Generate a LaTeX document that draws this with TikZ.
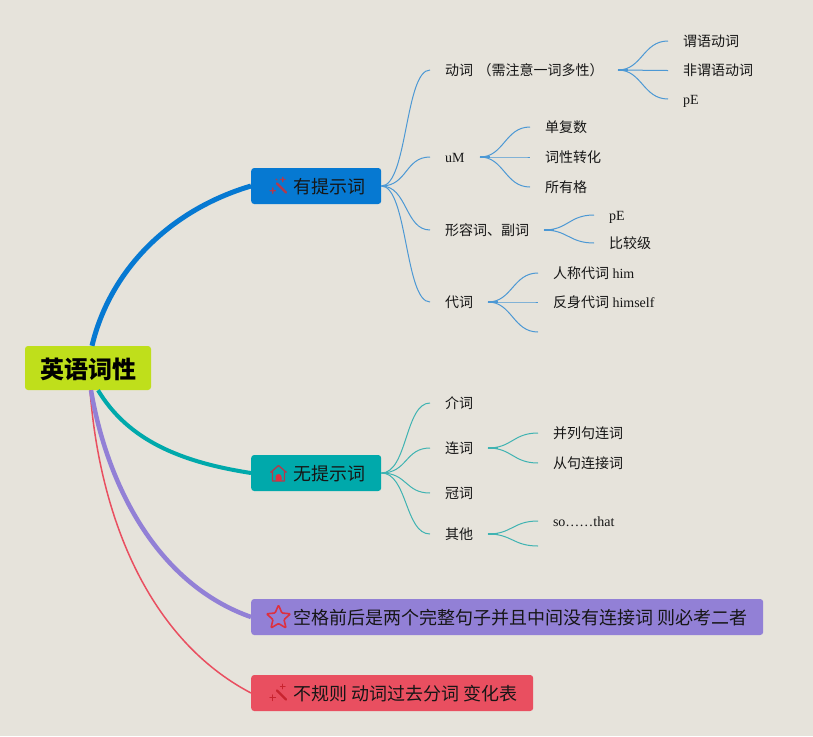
\documentclass[tikz,border=0pt]{standalone}
\usepackage{fontspec}
\setmainfont{Liberation Serif}
\newfontfamily\cjk{Noto Sans CJK SC}
\definecolor{paper}{HTML}{E6E3DB}
\definecolor{lime}{HTML}{BFDF1B}
\definecolor{bblue}{HTML}{0679D2}
\definecolor{bteal}{HTML}{00A9AB}
\definecolor{bpurple}{HTML}{9280D6}
\definecolor{bred}{HTML}{E94F60}
\definecolor{lblue}{HTML}{4C98D4}
\definecolor{lteal}{HTML}{3FB3B2}
\definecolor{ink}{HTML}{161616}
\definecolor{iconred}{HTML}{B23A4C}
\definecolor{iconbright}{HTML}{DD3040}
\definecolor{icondark}{HTML}{C8242F}
\tikzset{
  x=1pt,y=-1pt,
  rootbox/.style={fill=lime,rounded corners=3pt,minimum width=126pt,minimum height=44pt,inner sep=0pt},
  roottext/.style={inner sep=0pt,font=\fontsize{24}{26}\selectfont\cjk\bfseries,text=black},
  branchbox/.style={rounded corners=3pt,minimum height=36pt,inner sep=0pt,anchor=west},
  branchtext/.style={anchor=west,inner sep=0pt,minimum height=20pt,font=\fontsize{18}{20}\selectfont\cjk,text=ink},
  leaf/.style={anchor=west,inner sep=0pt,outer sep=0pt,text height=12pt,text depth=2pt,font=\fontsize{14}{16}\selectfont,text=ink,align=left},
  bluelink/.style={draw=lblue,line width=1pt},
  teallink/.style={draw=lteal,line width=1pt},
  wand/.style={line cap=round,line width=2.2pt},
  spark/.style={line cap=round,line width=1.1pt},
}
\newcommand{\cn}[1]{{\cjk #1}}
\begin{document}
\begin{tikzpicture}
\useasboundingbox (0,0) rectangle (813,736);
\fill[paper] (0,0) rectangle (813,736);

% main nodes
\node[rootbox] (root) at (88,368) {};
\node[roottext] (roott) at (88,369) {英语词性};
\node[branchbox,fill=bblue,minimum width=130pt] (b1) at (251,186) {};
\node[branchbox,fill=bteal,minimum width=130pt] (b2) at (251,473) {};
\node[branchbox,fill=bpurple,minimum width=512pt] (b3) at (251,617) {};
\node[branchbox,fill=bred,minimum width=282pt] (b4) at (251,693) {};
\node[branchtext] (t1) at (293,187) {有提示词};
\node[branchtext] (t2) at (293,474) {无提示词};
\node[branchtext] (t3) at (293,618) {空格前后是两个完整句子并且中间没有连接词 则必考二者};
\node[branchtext] (t4) at (293,694) {不规则 动词过去分词 变化表};

% main connectors
\draw[bred,line width=1.5pt] ([xshift=2pt]root.south) .. controls (100,520) and (150,640) .. (b4.west);
\draw[bpurple,line width=4.5pt] ([xshift=3pt]root.south) .. controls (108,490) and (160,585) .. (b3.west);
\draw[bteal,line width=4pt] ([xshift=10pt]root.south) .. controls (128,440) and (180,462) .. (b2.west);
\draw[bblue,line width=5pt] ([xshift=4pt]root.north) .. controls (110,270) and (170,210) .. (b1.west);

% level 2, blue
\node[leaf,text width=173pt] (v) at (445,70) {\cn{动词 （需注意一词多性）}};
\node[leaf,text width=35pt] (um) at (445,157) {uM};
\node[leaf,text width=99pt] (adj) at (445,230) {\cn{形容词、副词}};
\node[leaf,text width=43pt] (pron) at (445,302) {\cn{代词}};
% level 3, blue
\node[leaf] (v1) at (683,41) {\cn{谓语动词}};
\node[leaf] (v2) at (683,70.5) {\cn{非谓语动词}};
\node[leaf] (v3) at (683,99) {pE};
\node[leaf] (u1) at (545,127) {\cn{单复数}};
\node[leaf] (u2) at (545,157) {\cn{词性转化}};
\node[leaf] (u3) at (545,187) {\cn{所有格}};
\node[leaf] (a1) at (609,215) {pE};
\node[leaf] (a2) at (609,243) {\cn{比较级}};
\node[leaf] (p1) at (553,273) {\cn{人称代词} him};
\node[leaf] (p2) at (553,302) {\cn{反身代词} himself};
\coordinate (p3) at (553,332);
% level 2, teal
\node[leaf] (jie) at (445,403) {\cn{介词}};
\node[leaf,text width=43pt] (lian) at (445,448) {\cn{连词}};
\node[leaf] (guan) at (445,493) {\cn{冠词}};
\node[leaf,text width=43pt] (qita) at (445,534) {\cn{其他}};
% level 3, teal
\node[leaf] (l1) at (553,433) {\cn{并列句连词}};
\node[leaf] (l2) at (553,463) {\cn{从句连接词}};
\node[leaf] (q1) at (553,521) {so……that};
\coordinate (q2) at (553,546);

% connectors
\foreach \c in {v,um,adj,pron} {\draw[bluelink] (b1.east) .. controls +(26,0) and ([xshift=-40pt]\c.west) .. ([xshift=-15pt]\c.west);}
\foreach \c in {jie,lian,guan,qita} {\draw[teallink] (b2.east) .. controls +(26,0) and ([xshift=-40pt]\c.west) .. ([xshift=-15pt]\c.west);}
\foreach \c in {v1,v2,v3} {\draw[bluelink] (v.east) .. controls +(24,0) and ([xshift=-40pt]\c.west) .. ([xshift=-15pt]\c.west);}
\foreach \c in {u1,u2,u3} {\draw[bluelink] (um.east) .. controls +(24,0) and ([xshift=-40pt]\c.west) .. ([xshift=-15pt]\c.west);}
\foreach \c in {a1,a2} {\draw[bluelink] (adj.east) .. controls +(24,0) and ([xshift=-40pt]\c.west) .. ([xshift=-15pt]\c.west);}
\foreach \c in {p1,p2} {\draw[bluelink] (pron.east) .. controls +(24,0) and ([xshift=-40pt]\c.west) .. ([xshift=-15pt]\c.west);}
\draw[bluelink] (pron.east) .. controls +(24,0) and ([xshift=-40pt]p3) .. ([xshift=-15pt]p3);
\foreach \c in {l1,l2} {\draw[teallink] (lian.east) .. controls +(24,0) and ([xshift=-40pt]\c.west) .. ([xshift=-15pt]\c.west);}
\draw[teallink] (qita.east) .. controls +(24,0) and ([xshift=-40pt]q1.west) .. ([xshift=-15pt]q1.west);
\draw[teallink] (qita.east) .. controls +(24,0) and ([xshift=-40pt]q2) .. ([xshift=-15pt]q2);
% heavier stubs where the links leave a parent
\foreach \c in {v,um,adj,pron} {\draw[lblue,line width=1.8pt] (\c.east) -- ++(10,0);}
\foreach \c in {lian,qita} {\draw[lteal,line width=1.8pt] (\c.east) -- ++(10,0);}

% icons
\draw[wand,draw=iconred] (277,183.5) -- (286,192.5);
\draw[spark,draw=iconred] (280.5,179.5) -- (285,179.5) (282.7,177.2) -- (282.7,181.8)
  (270,190.7) -- (275.5,190.7) (272.7,188) -- (272.7,193.5) (276,179) -- (277,180);
\draw[iconred,line width=1.3pt,line join=round] (270.5,472.5) -- (278.5,465.5) -- (286.5,472.5) (272.5,471) -- (272.5,481) -- (284.5,481) -- (284.5,471);
\fill[iconbright] (275.5,481) -- (275.5,477) arc[start angle=180,end angle=360,radius=3pt,y radius=-3pt] -- (281.5,481) -- cycle;
\draw[iconbright,line width=1.6pt,line join=round,rounded corners=1pt]
  (278.5,605) -- (281.9,613) -- (290.5,613.8) -- (284,619.5) -- (286,628) -- (278.5,623.5) -- (271,628) -- (273,619.5) -- (266.5,613.8) -- (275.1,613) -- cycle;
\draw[wand,draw=icondark] (277,690.5) -- (286,699.5);
\draw[spark,draw=icondark] (280.5,686.5) -- (285,686.5) (282.7,684.2) -- (282.7,688.8)
  (270,697.7) -- (275.5,697.7) (272.7,695) -- (272.7,700.5);
\end{tikzpicture}
\end{document}
